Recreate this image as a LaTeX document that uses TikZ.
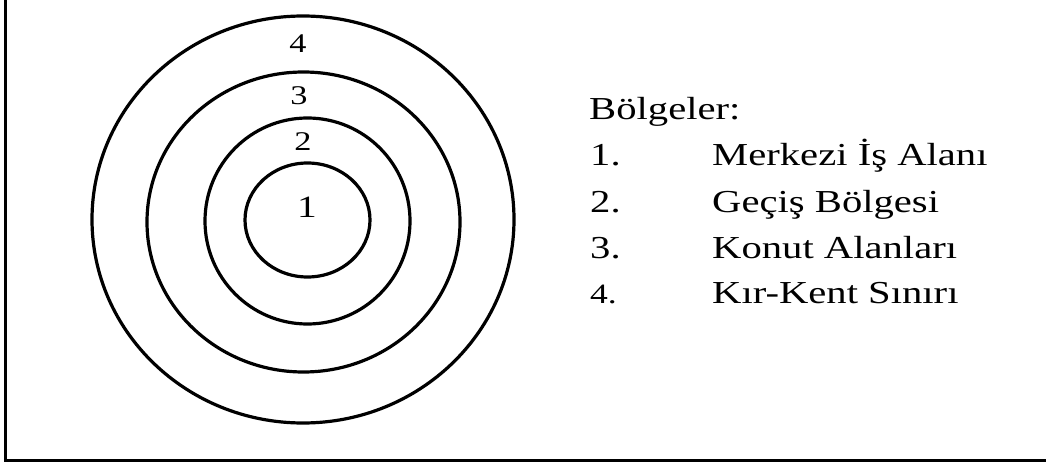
\documentclass[tikz,border=0pt]{standalone}
\usepackage{fontspec}
\usepackage{graphicx}
\setmainfont{Liberation Serif}
\newcommand{\wide}[1]{\scalebox{1.27}[1]{#1}}
\begin{document}
\begin{tikzpicture}[x=1pt,y=-1pt,
  ring/.style={line width=3.2pt},
  frameline/.style={line width=3pt},
  num/.style={inner sep=0pt,font=\fontsize{27}{32}\selectfont},
  txt/.style={inner sep=0pt,anchor=base west,font=\fontsize{32}{38}\selectfont}]
\useasboundingbox (0,0) rectangle (1046,465);
% frame (only left and bottom visible)
\draw[frameline] (5,0) -- (5,460) -- (1046,460);
% concentric rings
\draw[ring] (303,219.5) ellipse [x radius=211, y radius=203.5];
\draw[ring] (303.5,222) ellipse [x radius=156.5, y radius=150];
\draw[ring] (307.5,221) ellipse [x radius=102.5, y radius=103];
\draw[ring] (307.5,220) ellipse [x radius=62.5, y radius=57];
% ring labels
\node[num] (r4) at (298,44) {\wide{4}};
\node[num] (r3) at (299,96) {\wide{3}};
\node[num] (r2) at (303,142) {\wide{2}};
\node[num,font=\fontsize{31}{36}\selectfont] (r1) at (307,207) {\wide{1}};
% legend
\node[txt] (head) at (589,120) {\wide{Bölgeler:}};
\node[txt] (n1) at (590,166) {\wide{1.}};
\node[txt] (n2) at (590,212) {\wide{2.}};
\node[txt] (n3) at (590,258) {\wide{3.}};
\node[txt,font=\fontsize{28}{34}\selectfont] (n4) at (590,303) {\wide{4.}};
\node[txt] (t1) at (712,166) {\wide{Merkezi İş Alanı}};
\node[txt] (t2) at (712,212) {\wide{Geçiş Bölgesi}};
\node[txt] (t3) at (712,258) {\wide{Konut Alanları}};
\node[txt] (t4) at (712,303) {\wide{Kır-Kent Sınırı}};
\end{tikzpicture}
\end{document}
